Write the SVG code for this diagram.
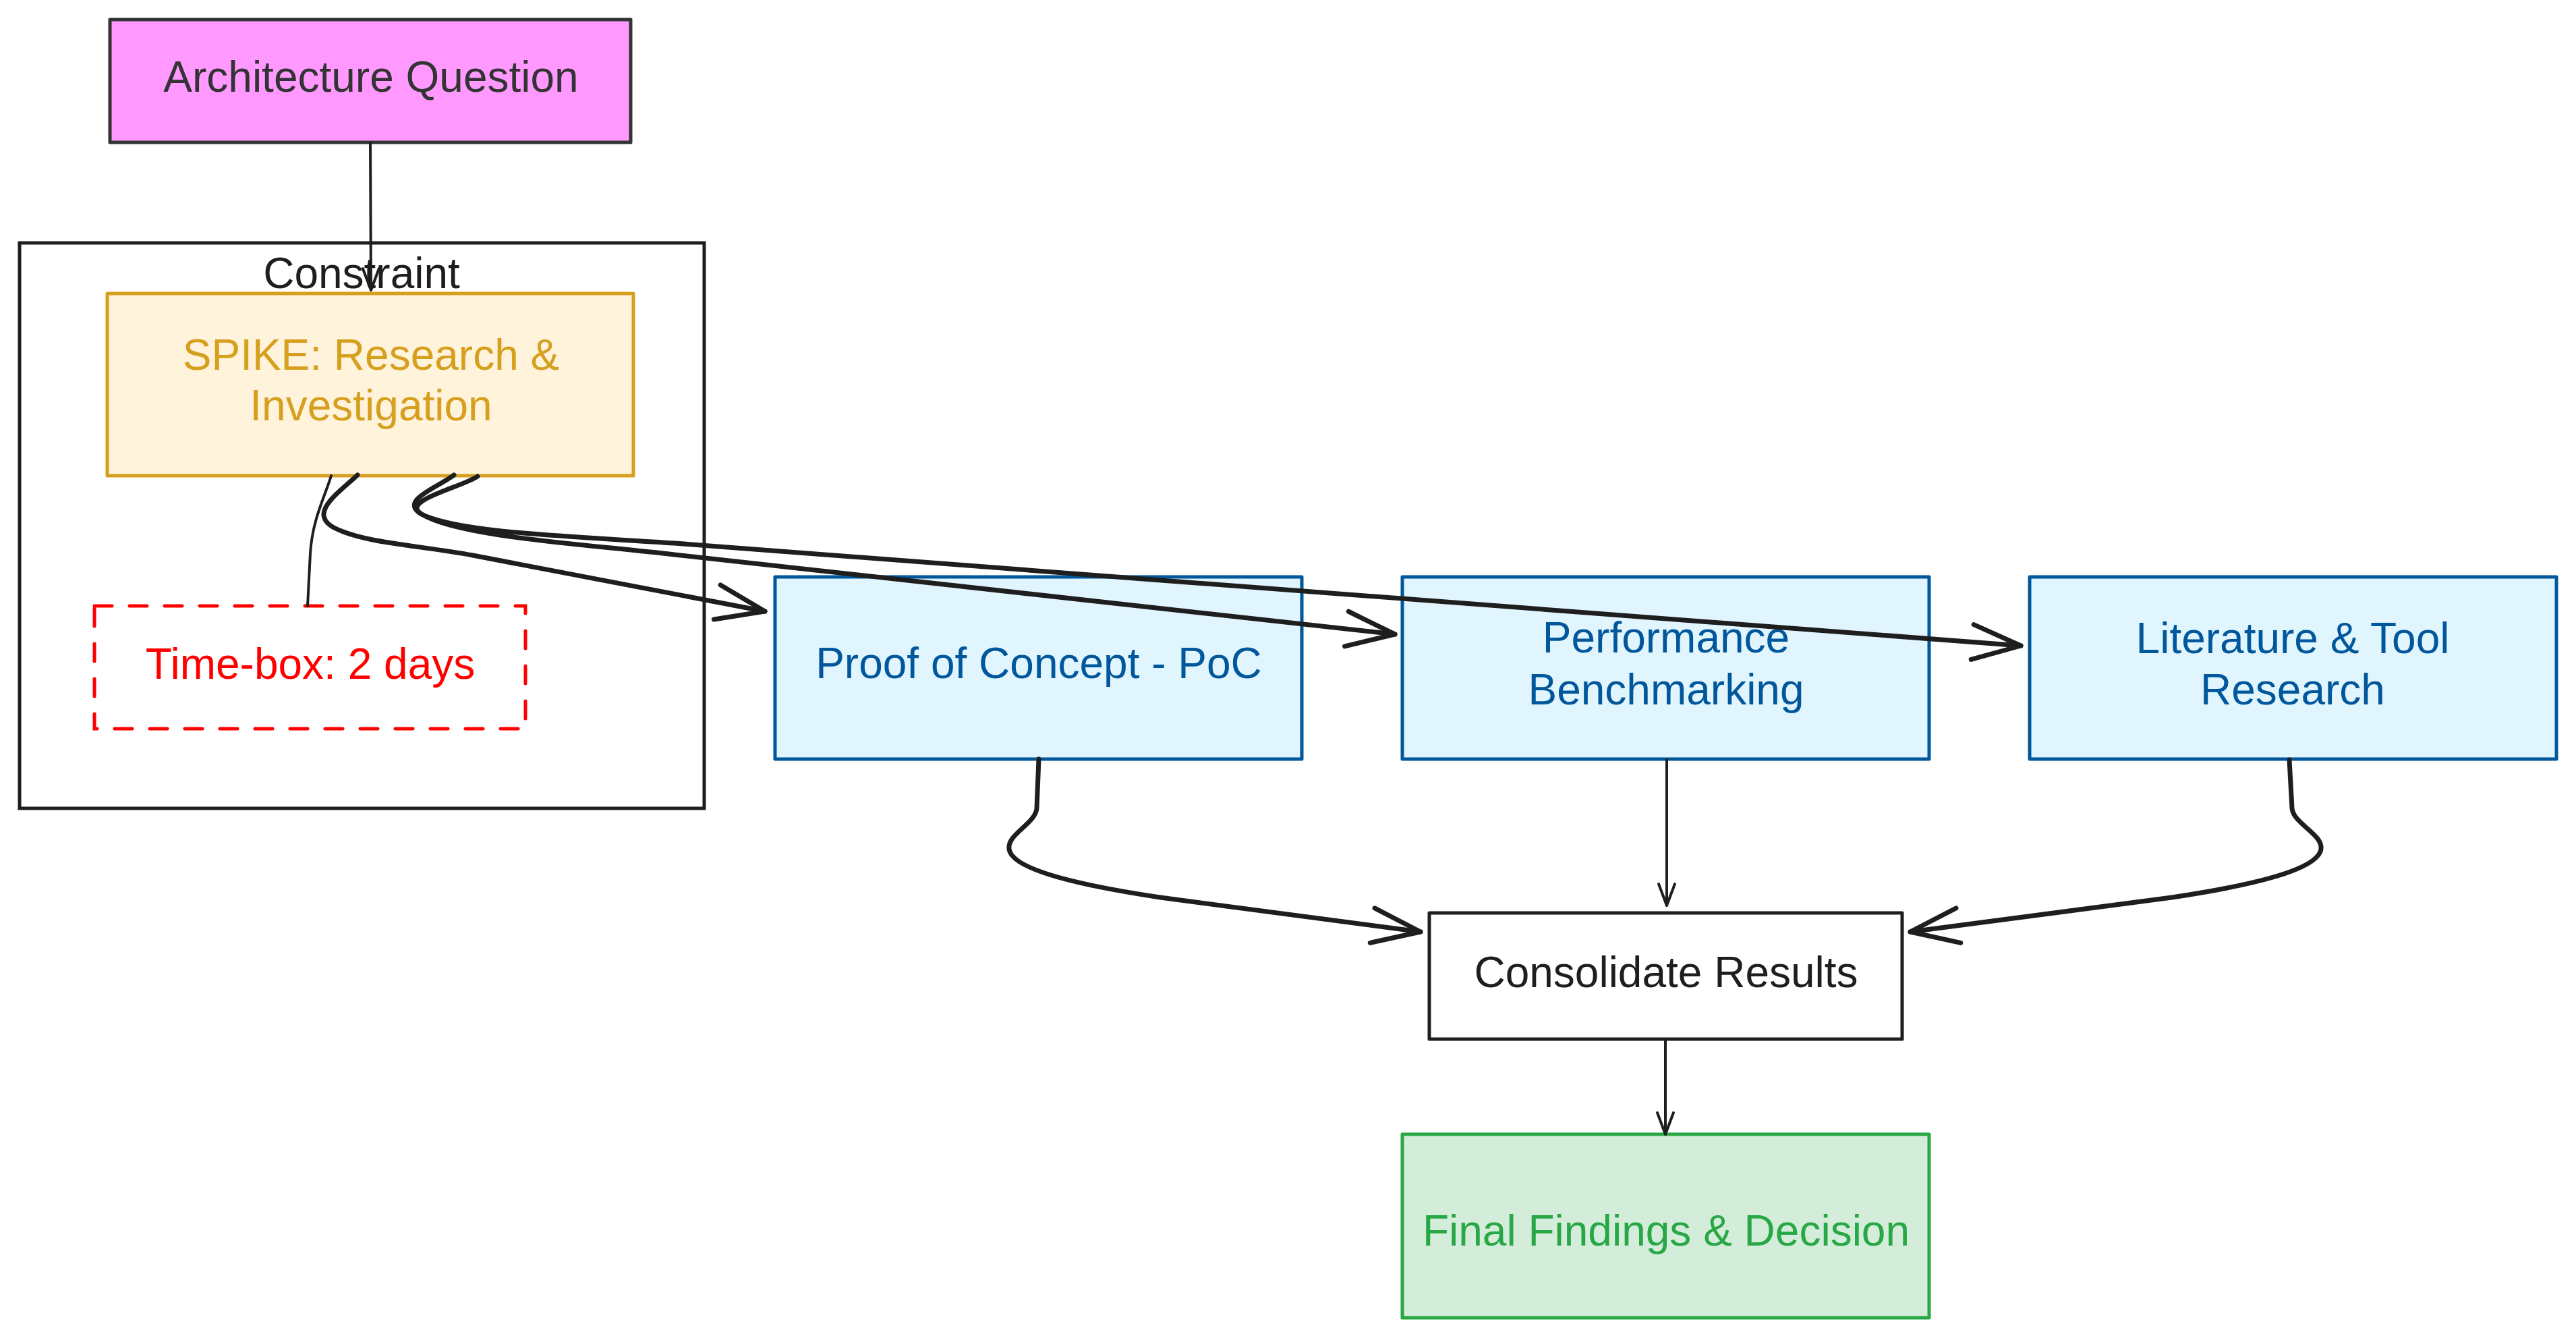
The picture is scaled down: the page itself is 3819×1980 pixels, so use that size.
<svg xmlns="http://www.w3.org/2000/svg" width="3819" height="1980" viewBox="0 0 3819 1980">
<defs>
<style>
.t{font-family:"Liberation Sans",Arial,sans-serif;font-size:64px;text-anchor:middle}
.box{stroke-width:5;stroke-linejoin:round}
.edge{fill:none;stroke:#1e1e1e;stroke-linecap:round;stroke-linejoin:round}
.thick{stroke-width:7}
.thin{stroke-width:4}
</style>
<marker id="big" markerUnits="userSpaceOnUse" markerWidth="200" markerHeight="200" refX="0" refY="0" viewBox="-100 -100 200 200" orient="auto" overflow="visible">
<path d="M-72,-26 L0,0 L-72,26" fill="none" stroke="#1e1e1e" stroke-width="7" stroke-linecap="round" stroke-linejoin="round"/>
</marker>
<marker id="small" markerUnits="userSpaceOnUse" markerWidth="100" markerHeight="100" refX="0" refY="0" viewBox="-50 -50 100 100" orient="auto" overflow="visible">
<path d="M-32,-12 L0,0 L-32,12" fill="none" stroke="#1e1e1e" stroke-width="4" stroke-linecap="round" stroke-linejoin="round"/>
</marker>
</defs>
<rect width="3819" height="1980" fill="#ffffff"/>

<g id="constraint">
<rect x="29" y="360" width="1015" height="838" fill="none" stroke="#1e1e1e" stroke-width="5"/>
<text class="t" x="536" y="427" fill="#1e1e1e">Constraint</text>
</g>

<g id="arch">
<rect class="box" x="163" y="29" width="772" height="182" fill="#ff99ff" stroke="#333333"/>
<text class="t" x="550" y="136" fill="#333333">Architecture Question</text>
</g>

<g id="spike">
<rect class="box" x="159" y="435" width="780" height="270" fill="#fff3dc" stroke="#d6a01e"/>
<text class="t" x="550" y="548" fill="#d6a01e">SPIKE: Research &amp;</text>
<text class="t" x="550" y="623" fill="#d6a01e">Investigation</text>
</g>

<g id="timebox">
<rect x="140" y="898" width="639" height="182" fill="none" stroke="#ff0000" stroke-width="5" stroke-dasharray="26 26" stroke-linecap="round"/>
<text class="t" x="460" y="1006" fill="#ff0000">Time-box: 2 days</text>
</g>

<g id="poc">
<rect class="box" x="1149" y="855" width="781" height="270" fill="#e1f5fe" stroke="#01579b"/>
<text class="t" x="1540" y="1005" fill="#01579b">Proof of Concept - PoC</text>
</g>

<g id="perf">
<rect class="box" x="2079" y="855" width="781" height="270" fill="#e1f5fe" stroke="#01579b"/>
<text class="t" x="2470" y="967" fill="#01579b">Performance</text>
<text class="t" x="2470" y="1044" fill="#01579b">Benchmarking</text>
</g>

<g id="lit">
<rect class="box" x="3009" y="855" width="781" height="270" fill="#e1f5fe" stroke="#01579b"/>
<text class="t" x="3399" y="968" fill="#01579b">Literature &amp; Tool</text>
<text class="t" x="3399" y="1044" fill="#01579b">Research</text>
</g>

<g id="consolidate">
<rect class="box" x="2119" y="1353" width="701" height="187" fill="#ffffff" stroke="#1e1e1e"/>
<text class="t" x="2470" y="1463" fill="#1e1e1e">Consolidate Results</text>
</g>

<g id="final">
<rect class="box" x="2079" y="1681" width="781" height="272" fill="#d4edda" stroke="#28a745"/>
<text class="t" x="2470" y="1846" fill="#28a745">Final Findings &amp; Decision</text>
</g>

<g id="connectors">
<path class="edge thin" d="M549,212 L550,430" marker-end="url(#small)"/>
<path class="edge thin" d="M491,705 C482,735 463,770 460,820 L456,898"/>
<path class="edge thick" d="M530,704 C505,728 455,760 495,782 C540,805 620,808 701,823 L1134,906" marker-end="url(#big)"/>
<path class="edge thick" d="M673,704 C650,722 590,742 625,762 C680,795 850,805 1000,822 L2068,940" marker-end="url(#big)"/>
<path class="edge thick" d="M708,706 C685,722 592,742 625,762 C680,790 850,795 1000,805 L2996,957" marker-end="url(#big)"/>
<path class="edge thick" d="M1540,1125 L1537,1198 C1535,1222 1488,1238 1497,1262 C1508,1290 1600,1312 1720,1330 L2106,1381" marker-end="url(#big)"/>
<path class="edge thick" d="M3394,1126 L3398,1198 C3400,1222 3449,1238 3440,1262 C3429,1290 3340,1312 3220,1330 L2832,1381" marker-end="url(#big)"/>
<path class="edge thin" d="M2471,1126 L2471,1342" marker-end="url(#small)"/>
<path class="edge thin" d="M2469,1541 L2469,1681" marker-end="url(#small)"/>
</g>
</svg>
